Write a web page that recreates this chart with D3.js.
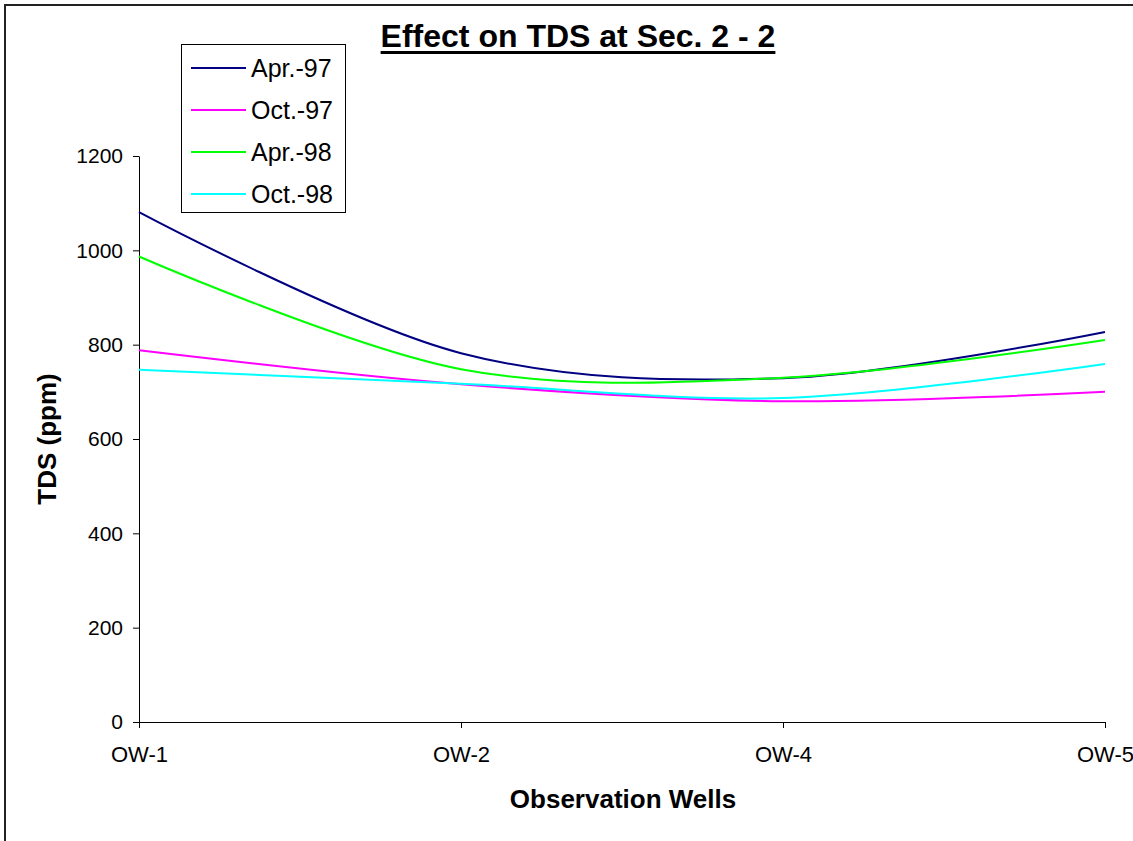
<!DOCTYPE html>
<html>
<head>
<meta charset="utf-8">
<script src="https://cdn.jsdelivr.net/npm/d3@7"></script>
<style>
  html, body { margin: 0; padding: 0; background: #fff; }
  svg { display: block; font-family: Arial, "Liberation Sans", sans-serif; }
</style>
</head>
<body>
<svg id="chart" width="1133" height="841"></svg>
<script>
// Observation wells along the section
const wells = ["OW-1", "OW-2", "OW-4", "OW-5"];

// TDS readings (ppm) per survey
const apr97 = [1081, 782, 729, 827];
const oct97 = [788, 716, 680, 700];
const apr98 = [987, 748, 730, 810];
const oct98 = [747, 717, 687, 759];

const seriesNames = ["Apr.-97", "Oct.-97", "Apr.-98", "Oct.-98"];
const seriesColors = ["#000080", "#ff00ff", "#00ff00", "#00ffff"];
const yTicks = [0, 200, 400, 600, 800, 1000, 1200];

const series = [apr97, oct97, apr98, oct98].map((vals, i) => ({
  name: seriesNames[i], color: seriesColors[i], values: vals
}));

const svg = d3.select("#chart");

// outer frame (left and top edges visible)
svg.append("path")
  .attr("d", "M5,841 V5 H1133")
  .attr("fill", "none")
  .attr("stroke", "#222")
  .attr("stroke-width", 2);

const x = d3.scalePoint().domain(wells).range([139, 1105]);
const y = d3.scaleLinear().domain([0, 1200]).range([722, 156]);

// y axis
const yAxis = svg.append("g")
  .attr("transform", "translate(139,0)")
  .call(d3.axisLeft(y).tickValues(yTicks).tickFormat(d3.format("d"))
    .tickSize(6).tickSizeOuter(0).tickPadding(10));
yAxis.select(".domain").attr("stroke", "#000");
yAxis.selectAll(".tick line").attr("stroke", "#000");
yAxis.selectAll(".tick text")
  .attr("font-size", 21)
  .attr("font-family", "Arial, 'Liberation Sans', sans-serif")
  .attr("fill", "#000");

// x axis
const xAxis = svg.append("g")
  .attr("transform", "translate(0,722)")
  .call(d3.axisBottom(x).tickSize(6).tickSizeOuter(0).tickPadding(18));
xAxis.select(".domain").attr("stroke", "#000");
xAxis.selectAll(".tick line").attr("stroke", "#000");
xAxis.selectAll(".tick text")
  .attr("font-size", 22)
  .attr("font-family", "Arial, 'Liberation Sans', sans-serif")
  .attr("fill", "#000");

// smoothed series lines
const line = d3.line()
  .x((d, i) => x(wells[i]))
  .y(d => y(d))
  .curve(d3.curveCardinal.tension(0));

svg.append("g").selectAll("path")
  .data(series)
  .join("path")
  .attr("d", d => line(d.values))
  .attr("fill", "none")
  .attr("stroke", d => d.color)
  .attr("stroke-width", 2);

// title with underline
const title = svg.append("text")
  .attr("x", 578)
  .attr("y", 47)
  .attr("text-anchor", "middle")
  .attr("font-size", 32)
  .attr("font-weight", "bold")
  .text("Effect on TDS at Sec. 2 - 2");
const tb = title.node().getBBox();
svg.append("rect")
  .attr("x", tb.x)
  .attr("y", 51)
  .attr("width", tb.width)
  .attr("height", 3)
  .attr("fill", "#000");

// axis titles
svg.append("text")
  .attr("x", 623)
  .attr("y", 808)
  .attr("text-anchor", "middle")
  .attr("font-size", 26)
  .attr("font-weight", "bold")
  .text("Observation Wells");

svg.append("text")
  .attr("transform", "translate(56,439) rotate(-90)")
  .attr("text-anchor", "middle")
  .attr("font-size", 26)
  .attr("font-weight", "bold")
  .text("TDS (ppm)");

// legend
const legend = svg.append("g");
legend.append("rect")
  .attr("x", 181.5).attr("y", 44.5)
  .attr("width", 164).attr("height", 168)
  .attr("fill", "#fff")
  .attr("stroke", "#000");
const items = legend.selectAll("g.item")
  .data(series)
  .join("g")
  .attr("class", "item")
  .attr("transform", (d, i) => `translate(0,${68 + i * 42})`);
items.append("line")
  .attr("x1", 191).attr("x2", 246)
  .attr("stroke", d => d.color)
  .attr("stroke-width", 2);
items.append("text")
  .attr("x", 251)
  .attr("dy", "0.35em")
  .attr("font-size", 25)
  .text(d => d.name);
</script>
</body>
</html>
